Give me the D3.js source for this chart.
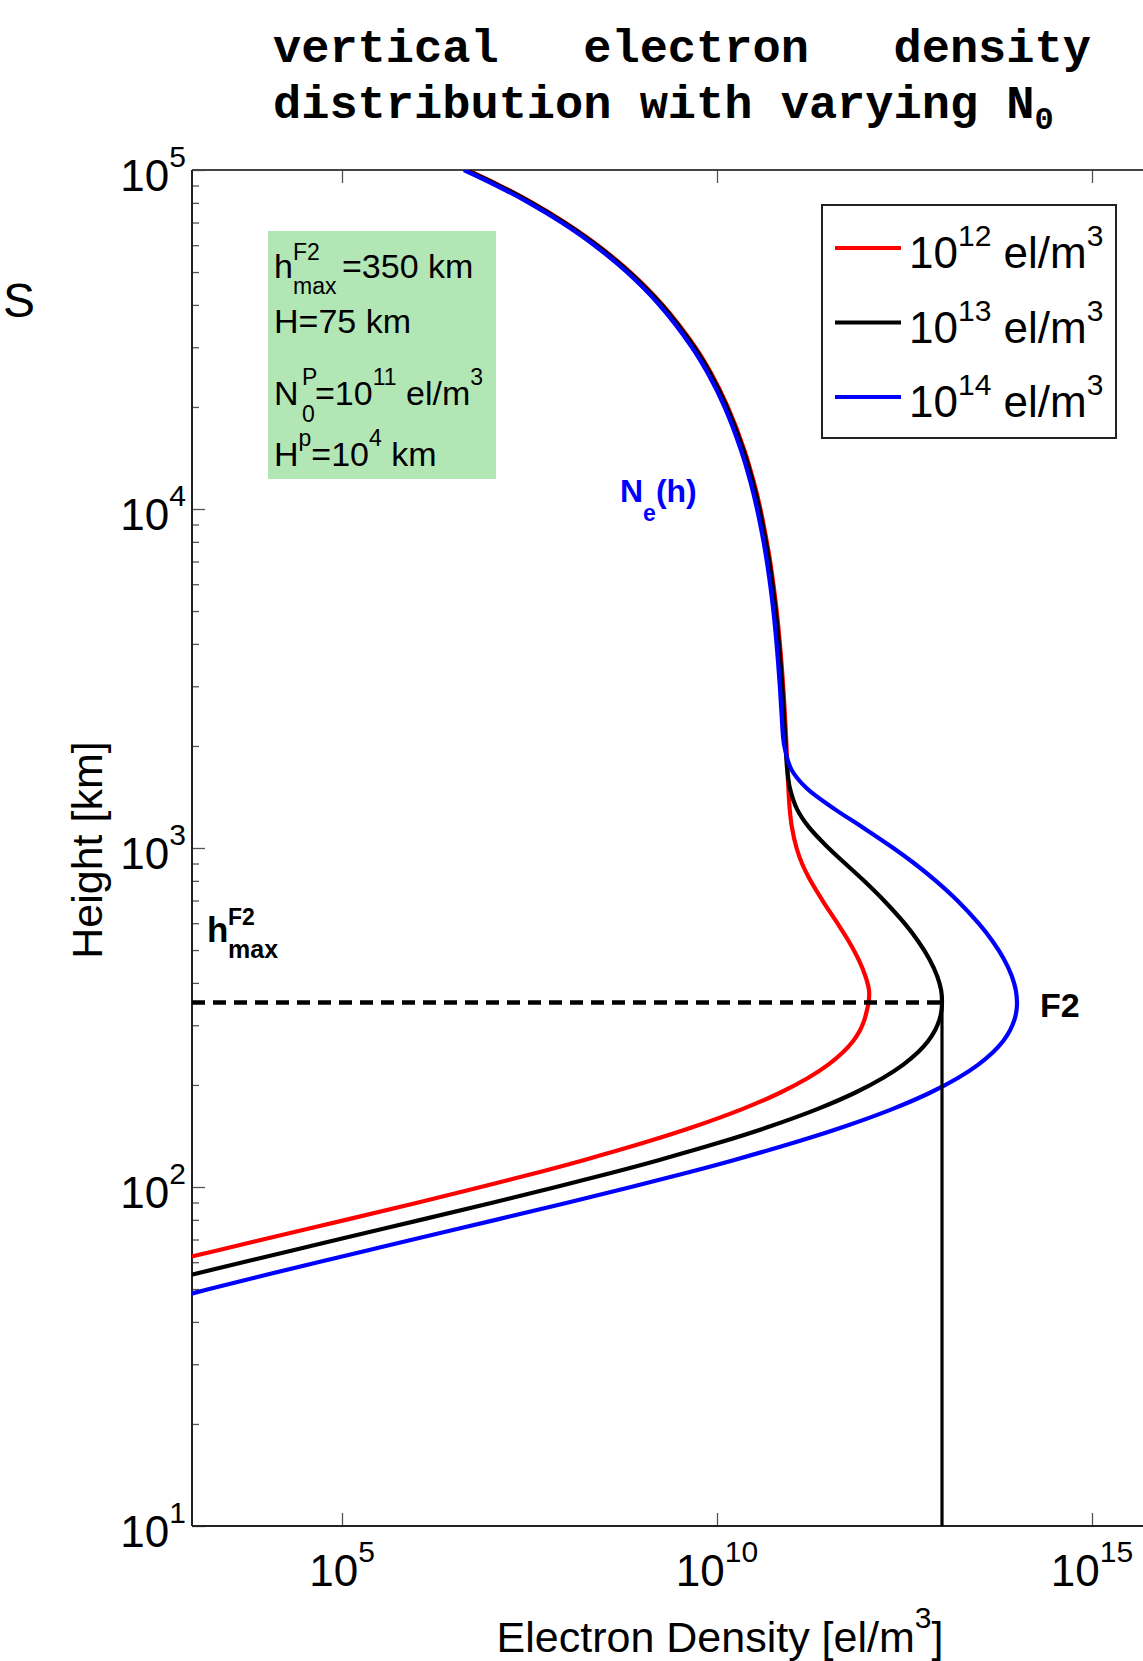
<!DOCTYPE html>
<html>
<head>
<meta charset="utf-8">
<script src="https://cdn.jsdelivr.net/npm/d3@7"></script>
<style>
  body { margin: 0; background: #fff; }
  svg { display: block; }
  text { font-family: "Liberation Sans", Arial, sans-serif; }
  text.mono { font-family: "Liberation Mono", "DejaVu Sans Mono", monospace; font-weight: bold; white-space: pre; }
</style>
</head>
<body>
<svg id="chart" width="1143" height="1661"></svg>
<script>
/* Heights [km] shared by all three profiles. */
const heights = [45, 50, 55, 60, 65, 70, 80, 90, 100, 110, 120, 135, 150, 170, 190, 210, 230, 250, 270, 290,
  310, 330, 350, 380, 420, 470, 530, 600, 700, 800, 900, 1000, 1150, 1300, 1500, 1700, 2000, 2500,
  3000, 4000, 5000, 6000, 7000, 8000, 10000, 12000, 15000, 20000, 25000, 30000, 40000, 50000,
  60000, 70000, 80000, 90000, 100000]

/* Electron density [el/m^3], N0 = 1e12. */
const densityRed = [2.7, 17, 95, 478, 2.17e3, 8.8e3, 1.12e5, 1.04e6, 7.1e6, 3.85e7, 1.66e8, 1.05e9, 4.69e9,
  2.21e10, 7.03e10, 1.65e11, 3.08e11, 4.82e11, 6.58e11, 8.08e11, 9.18e11, 9.9e11, 1.05e12, 1.065e12,
  9.48e11, 7.68e11, 5.73e11, 4.03e11, 2.55e11, 1.77e11, 1.36e11, 1.15e11, 9.98e10, 9.33e10, 8.95e10,
  8.71e10, 8.44e10, 8.02e10, 7.63e10, 6.90e10, 6.25e10, 5.65e10, 5.12e10, 4.62e10, 3.79e10, 3.10e10,
  2.30e10, 1.39e10, 8.46e9, 5.13e9, 1.88e9, 6.94e8, 2.55e8, 9.39e7, 3.46e7, 1.27e7, 4.68e6]

/* N0 = 1e13. */
const densityBlack = [27, 170, 953, 4.78e3, 2.17e4, 8.83e4, 1.12e6, 1.04e7, 7.14e7, 3.85e8, 1.66e9, 1.05e10,
  4.69e10, 2.21e11, 7.03e11, 1.65e12, 3.08e12, 4.82e12, 6.58e12, 8.08e12, 9.18e12, 9.81e12, 1.0e13,
  9.75e12, 8.59e12, 6.79e12, 4.84e12, 3.15e12, 1.68e12, 9.12e11, 5.12e11, 3.07e11, 1.69e11, 1.17e11,
  9.38e10, 8.64e10, 8.22e10, 7.79e10, 7.41e10, 6.70e10, 6.07e10, 5.49e10, 4.97e10, 4.49e10, 3.68e10,
  3.01e10, 2.23e10, 1.35e10, 8.21e9, 4.98e9, 1.83e9, 6.74e8, 2.48e8, 9.12e7, 3.36e7, 1.23e7, 4.54e6]

/* N0 = 1e14. */
const densityBlue = [268, 1.70e3, 9.53e3, 4.78e4, 2.17e5, 8.83e5, 1.12e7, 1.04e8, 7.14e8, 3.85e9, 1.66e10,
  1.05e11, 4.69e11, 2.21e12, 7.03e12, 1.65e13, 3.08e13, 4.82e13, 6.58e13, 8.08e13, 9.18e13, 9.81e13,
  1.0e14, 9.65e13, 8.49e13, 6.70e13, 4.75e13, 3.06e13, 1.60e13, 8.28e12, 4.29e12, 2.24e12, 8.79e11,
  3.75e11, 1.57e11, 9.88e10, 7.89e10, 7.25e10, 6.89e10, 6.23e10, 5.65e10, 5.11e10, 4.62e10, 4.18e10,
  3.42e10, 2.80e10, 2.07e10, 1.26e10, 7.64e9, 4.63e9, 1.70e9, 6.27e8, 2.31e8, 8.48e7, 3.12e7, 1.14e7, 4.22e6]

/* Legend exponents and colours. */
const legendExps = ["12", "13", "14"]
const seriesColors = ["#ff0000", "#000000", "#0000ff"]

/* Tick exponents. */
const xTickExps = [5, 10, 15]
const yTickExps = [1, 2, 3, 4, 5]

/* hmax marker: peak height and peak density of the black profile. */
const hmaxKm = 350
const peakDensity = 1e13

const svg = d3.select("#chart")

/* Scales. */
const x = d3.scaleLog().domain([1e3, 1e16]).range([192, 1167])
const y = d3.scaleLog().domain([10, 1e5]).range([1526, 170])

/* Helper: text with sup/sub pieces. Each part: {t, off, size, x} */
function richText(parent, px, py, parts, size, extra) {
  const t = parent.append("text").attr("x", px).attr("y", py).attr("font-size", size)
  if (extra) Object.keys(extra).forEach(k => t.attr(k, extra[k]))
  let shift = 0
  parts.forEach(p => {
    const off = p.off || 0
    const ts = t.append("tspan").text(p.t).attr("dy", off - shift)
    shift = off
    if (p.x != null) ts.attr("x", p.x)
    if (p.size) ts.attr("font-size", p.size)
  })
  return t
}

/* Clip region of the axes. */
svg.append("clipPath").attr("id", "plotclip")
  .append("rect").attr("x", 192).attr("y", 170).attr("width", 1143 - 192).attr("height", 1526 - 170)

/* Minor y ticks. */
const minorY = []
for (let e = 1; e < 5; e++) for (let m = 2; m <= 9; m++) minorY.push(m * Math.pow(10, e))

const tickStyle = g => g.call(s => s.select(".domain").remove())
  .call(s => s.selectAll("line").attr("stroke", "#555").attr("stroke-width", 1.3))

svg.append("g").attr("transform", "translate(192,0)")
  .call(d3.axisLeft(y).tickValues(minorY).tickSize(-7).tickFormat(""))
  .call(tickStyle)
svg.append("g").attr("transform", "translate(192,0)")
  .call(d3.axisLeft(y).tickValues(yTickExps.map(e => Math.pow(10, e))).tickSize(-13).tickFormat(""))
  .call(tickStyle)

/* x ticks, bottom and top, inward. */
const xVals = xTickExps.map(e => Math.pow(10, e))
svg.append("g").attr("transform", "translate(0,1526)")
  .call(d3.axisBottom(x).tickValues(xVals).tickSize(-13).tickFormat(""))
  .call(tickStyle)
svg.append("g").attr("transform", "translate(0,170)")
  .call(d3.axisTop(x).tickValues(xVals).tickSize(-13).tickFormat(""))
  .call(tickStyle)

/* Axes box (right side cropped). */
svg.append("line").attr("x1", 192).attr("x2", 1143).attr("y1", 170).attr("y2", 170)
  .attr("stroke", "#444").attr("stroke-width", 2)
svg.append("line").attr("x1", 192).attr("x2", 1143).attr("y1", 1526).attr("y2", 1526)
  .attr("stroke", "#222").attr("stroke-width", 2)
svg.append("line").attr("x1", 192).attr("x2", 192).attr("y1", 170).attr("y2", 1526)
  .attr("stroke", "#222").attr("stroke-width", 2)

/* Tick labels. */
yTickExps.forEach(e => {
  richText(svg, 186, y(Math.pow(10, e)) + 21,
    [{ t: "10" }, { t: String(e), off: -24, size: 30 }], 44, { "text-anchor": "end" })
})
xTickExps.forEach(e => {
  richText(svg, x(Math.pow(10, e)), 1586,
    [{ t: "10" }, { t: String(e), off: -24, size: 30 }], 44, { "text-anchor": "middle" })
})

/* Axis labels. */
richText(svg, 720, 1652,
  [{ t: "Electron Density [el/m" }, { t: "3", off: -24, size: 30 }, { t: "]" }], 43,
  { "text-anchor": "middle" })
svg.append("text").attr("transform", "translate(102,850) rotate(-90)")
  .attr("text-anchor", "middle").attr("font-size", 43).text("Height [km]")

/* Title (monospace bold). */
svg.append("text").attr("class", "mono").attr("x", 273).attr("y", 62)
  .attr("font-size", 47).text("vertical   electron   density")
richText(svg, 273, 118, [{ t: "distribution with varying N" }, { t: "0", off: 11, size: 32 }], 47,
  { "class": "mono" })

/* Stray letter from the neighbouring panel. */
svg.append("text").attr("x", 3).attr("y", 317).attr("font-size", 48).text("S")

/* Green parameter box. */
svg.append("rect").attr("x", 268).attr("y", 231).attr("width", 228).attr("height", 248)
  .attr("fill", "#b3e6b5")
richText(svg, 274, 278, [
  { t: "h" }, { t: "F2", x: 293, off: -18, size: 23 }, { t: "max", x: 293, off: 16, size: 23 },
  { t: "=350 km", x: 342, off: 0 }], 34)
richText(svg, 274, 333, [{ t: "H=75 km" }], 34)
richText(svg, 274, 405, [
  { t: "N" }, { t: "P", x: 302, off: -20, size: 23 }, { t: "0", x: 302, off: 17, size: 23 },
  { t: "=10", x: 315, off: 0 }, { t: "11", off: -20, size: 23 }, { t: " el/m", off: 0 },
  { t: "3", off: -20, size: 23 }], 34)
richText(svg, 274, 466, [
  { t: "H" }, { t: "p", off: -20, size: 23 }, { t: "=10", off: 0 }, { t: "4", off: -20, size: 23 },
  { t: " km", off: 0 }], 34)

/* Profiles. */
const line = d3.line()
  .x(d => x(d[1]))
  .y(d => y(d[0]))
  .curve(d3.curveCatmullRom.alpha(0.5))

const plot = svg.append("g").attr("clip-path", "url(#plotclip)")
const series = [densityRed, densityBlack, densityBlue]
series.forEach((vals, i) => {
  plot.append("path")
    .datum(heights.map((h, j) => [h, vals[j]]))
    .attr("d", line)
    .attr("fill", "none")
    .attr("stroke", seriesColors[i])
    .attr("stroke-width", 4.2)
    .attr("stroke-linejoin", "round")
})

/* hmax dashed line and vertical peak-density line. */
plot.append("line")
  .attr("x1", x(1e3)).attr("x2", x(peakDensity))
  .attr("y1", y(hmaxKm)).attr("y2", y(hmaxKm))
  .attr("stroke", "#000").attr("stroke-width", 4.5).attr("stroke-dasharray", "13,8")
plot.append("line")
  .attr("x1", x(peakDensity)).attr("x2", x(peakDensity))
  .attr("y1", y(hmaxKm)).attr("y2", y(10))
  .attr("stroke", "#000").attr("stroke-width", 3.2)

/* Annotations. */
richText(svg, 207, 942, [
  { t: "h" }, { t: "F2", x: 228, off: -17, size: 23 }, { t: "max", x: 228, off: 16, size: 25 }], 35,
  { "font-weight": "bold" })
svg.append("text").attr("x", 1040).attr("y", 1017).attr("font-size", 34)
  .attr("font-weight", "bold").text("F2")
richText(svg, 620, 502, [{ t: "N" }, { t: "e", off: 19, size: 23 }, { t: "(h)", off: 0 }], 32,
  { "font-weight": "bold", fill: "#0000ff" })

/* Legend. */
const legend = svg.append("g")
legend.append("rect").attr("x", 822).attr("y", 205).attr("width", 294).attr("height", 233)
  .attr("fill", "#fff").attr("stroke", "#222").attr("stroke-width", 2)
legendExps.forEach((e, i) => {
  const ly = 248 + i * 74.5
  legend.append("line").attr("x1", 835).attr("x2", 901).attr("y1", ly).attr("y2", ly)
    .attr("stroke", seriesColors[i]).attr("stroke-width", 4)
  richText(legend, 909, ly + 20, [
    { t: "10" }, { t: e, off: -22, size: 30 }, { t: " el/m", off: 0 }, { t: "3", off: -22, size: 30 }], 44)
})
</script>
</body>
</html>
